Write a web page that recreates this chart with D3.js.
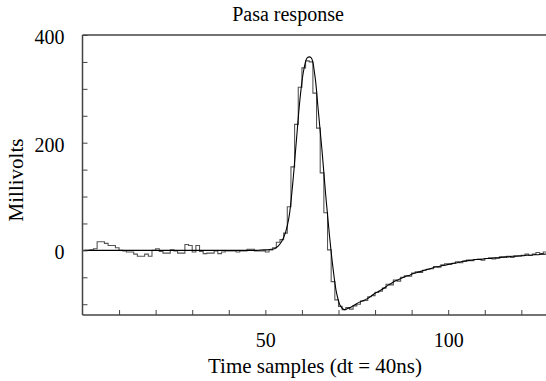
<!DOCTYPE html>
<html><head><meta charset="utf-8">
<script src="https://cdn.jsdelivr.net/npm/d3@7/dist/d3.min.js"></script>
<style>
html,body{margin:0;padding:0;background:#fff;}
svg{display:block;}
text{font-family:"Liberation Serif","Times New Roman",serif;fill:#000;}
</style></head>
<body>
<svg id="chart" width="546" height="381"></svg>
<script>
// ---- data ----
const chartTitle = "Pasa response";
const xTitle = "Time samples (dt = 40ns)";
const yTitle = "Millivolts";
const xDomain = [0, 128];
const yDomain = [-120, 400];
const xTickValues = [10,20,30,40,50,60,70,80,90,100,110,120];
const xTickLabels = [50, 100];
const yTickValues = [-100,-50,0,50,100,150,200,250,300,350,400];
const yTickLabels = [0, 200, 400];

// measured samples (one per time bin, bins start at 0)
const samples = [
  0, 0, 1, 3, 16, 16, 13, 9, 9, 5,
  0, -1, -3, -3, -7, -11, -11, -7, -11, 0,
  3, -2, -5, -5, 1, -1, -5, -5, 11, 9,
  -3, 9, -2, -6, -5, -5, -1, -6, -3, -1,
  -1, -1, -3, -1, -1, 2, 2, -1, -1, -1,
  -3, 1, 5, 15, 20, 32, 81, 155, 234, 303,
  339, 352, 350, 292, 227, 144, 70, 1, -58, -92,
  -104, -110, -106, -109, -103, -100, -94, -93, -86, -84,
  -78, -76, -70, -63, -64, -55, -57, -50, -47, -48,
  -42, -40, -41, -37, -35, -34, -30, -31, -27, -25,
  -26, -24, -21, -23, -20, -18, -19, -17, -16, -18,
  -15, -14, -16, -14, -12, -13, -11, -13, -10, -11,
  -9, -7, -9, -7, -4, -6, -3, -6
];

// fitted response (one value per bin centre)
const fit = [
  0, 0, 0, 0, 0, 0, 0, 0, 0, 0,
  0, 0, 0, 0, 0, 0, 0, 0, 0, 0,
  0, 0, 0, 0, 0, 0, 0, 0, 0, 0,
  0, 0, 0, 0, 0, 0, 0, 0, 0, 0,
  0, 0, 0, 0, 0, 0, 0, 0, 0.5, 1,
  1, 2, 3, 8, 17, 33, 63, 125, 205, 283,
  335, 358, 358, 327, 258, 185, 103, 30, -33, -80,
  -103, -110, -108, -105, -101, -97, -94, -91, -87, -82,
  -78, -74, -70, -65, -61, -57, -54, -51, -48, -46,
  -43, -41, -39, -37, -35, -33, -31, -30, -28, -27,
  -25, -24, -23, -21, -20, -19, -18, -17, -17, -16,
  -15, -15, -14, -14, -13, -12, -12, -11, -11, -10,
  -10, -9, -9, -8, -8, -7, -7, -6
];

(function(){
const FONT = "'Liberation Serif', 'Times New Roman', serif";
const svg = d3.select("#chart");
const mLeft = 82.5, mRight = 82.5 + 3.657 * 128, mTop = 35, mBottom = 315;
const x = d3.scaleLinear().domain(xDomain).range([mLeft, mRight]);
const y = d3.scaleLinear().domain(yDomain).range([mBottom, mTop]);

svg.append("defs").append("clipPath").attr("id","clip")
  .append("rect").attr("x", mLeft).attr("y", mTop).attr("width", mRight-mLeft).attr("height", mBottom-mTop);

const g = svg.append("g").attr("clip-path","url(#clip)");

const histPts = samples.map((v,i)=>[i, v]);
histPts.push([samples.length, samples[samples.length-1]]);
g.append("path")
  .attr("d", d3.line().x(d=>x(d[0])).y(d=>y(d[1])).curve(d3.curveStepAfter)(histPts))
  .attr("fill","none").attr("stroke","#555").attr("stroke-width",1.1);

const fitPts = fit.map((v,i)=>[i+0.5, v]);
g.append("path")
  .attr("d", d3.line().x(d=>x(d[0])).y(d=>y(d[1])).curve(d3.curveCatmullRom.alpha(0.5))(fitPts))
  .attr("fill","none").attr("stroke","#000").attr("stroke-width",1.1);

const frameColor = "#444";
svg.append("line").attr("x1",mLeft).attr("x2",546).attr("y1",mTop).attr("y2",mTop).attr("stroke",frameColor).attr("stroke-width",1.3);
svg.append("line").attr("x1",mLeft).attr("x2",546).attr("y1",mBottom).attr("y2",mBottom).attr("stroke",frameColor).attr("stroke-width",1.5);
svg.append("line").attr("x1",mLeft).attr("x2",mLeft).attr("y1",mTop).attr("y2",mBottom).attr("stroke",frameColor).attr("stroke-width",1.5);

const xAxis = d3.axisBottom(x).tickValues(xTickValues).tickSizeInner(-5).tickSizeOuter(0)
  .tickFormat(d => xTickLabels.includes(d) ? d : "");
const xg = svg.append("g").attr("transform",`translate(0,${mBottom})`).call(xAxis)
  .attr("font-family", FONT).attr("font-size", 20);
xg.select(".domain").remove();
xg.selectAll(".tick line").attr("stroke",frameColor);
xg.selectAll(".tick text").attr("y", 32).attr("dy", 0).attr("fill","#000");

const yAxis = d3.axisLeft(y).tickValues(yTickValues).tickSizeInner(-5).tickSizeOuter(0)
  .tickFormat(d => yTickLabels.includes(d) ? d : "");
const yg = svg.append("g").attr("transform",`translate(${mLeft},0)`).call(yAxis)
  .attr("font-family", FONT).attr("font-size", 20);
yg.select(".domain").remove();
yg.selectAll(".tick line").attr("stroke",frameColor);
yg.selectAll(".tick text").attr("x", -18).attr("dy", "0.42em").attr("fill","#000");

svg.append("text").attr("x", 288).attr("y", 21).attr("text-anchor","middle")
  .attr("font-family", FONT).attr("font-size", 20).text(chartTitle);
svg.append("text").attr("x", 315).attr("y", 373).attr("text-anchor","middle")
  .attr("font-family", FONT).attr("font-size", 21).text(xTitle);
svg.append("text").attr("transform","translate(23,180) rotate(-90)").attr("text-anchor","middle")
  .attr("font-family", FONT).attr("font-size", 21).text(yTitle);
})();
</script>
</body></html>
